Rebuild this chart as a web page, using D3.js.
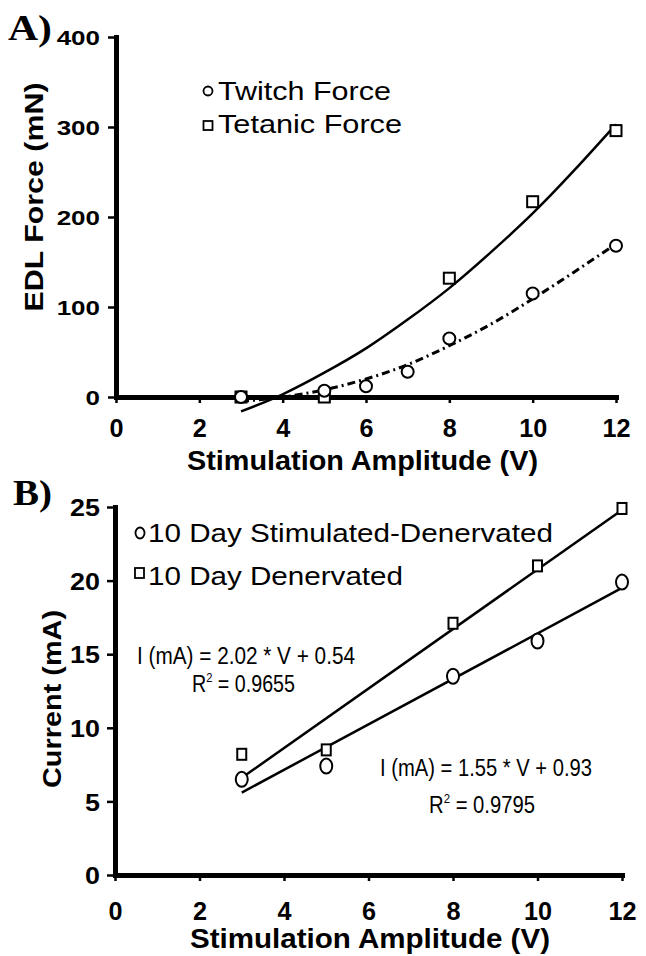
<!DOCTYPE html>
<meta charset="utf-8">
<style>
body { margin: 0; background: #fff; }
text { font-family: "Liberation Sans", Arial, sans-serif; fill: #000; }
.narrow { font-family: "Liberation Sans Narrow", "Arial Narrow", "Liberation Sans", sans-serif; }
</style>
<body>
<svg id="fig" width="646" height="956"></svg>
</body>
<script src="https://d3js.org/d3.v7.min.js"></script>
<script>
// panel A data: EDL force (mN) vs stimulation amplitude (V)
var twitchV = [3, 5, 6, 7, 8, 10, 12];
var twitchF = [0, 7, 12, 28, 65, 115, 168];
var tetanicV = [3, 5, 8, 10, 12];
var tetanicF = [0, 0, 132, 217, 296];
// trend curves
var trendV = [3, 4, 5, 6, 7, 8, 9, 10, 11, 12];
var twitchTrend = [-5, 0, 8, 20, 36, 57, 81, 109, 139, 170];
var tetanicTrend = [-16, 3, 27, 54, 86, 121, 161, 204, 252, 303];
var forceTicks = [0, 100, 200, 300, 400];
var voltTicks = [0, 2, 4, 6, 8, 10, 12];

// panel B data: current (mA) vs stimulation amplitude (V)
var ampB = [3, 5, 8, 10, 12];
var stimDenerv = [6.5, 7.4, 13.5, 15.9, 19.9];
var denerv = [8.2, 8.5, 17.1, 21.0, 24.9];
var fitV = [3, 12];
var denervFit = [6.6, 24.8];
var stimDenervFit = [5.6, 19.5];
var currentTicks = [0, 5, 10, 15, 20, 25];

var svg = d3.select("#fig");

// stretch text horizontally by factor k (the figure's type is wide)
function stretch(sel, k) {
  sel.each(function() {
    var w = this.getComputedTextLength();
    d3.select(this).attr("textLength", w * k).attr("lengthAdjust", "spacingAndGlyphs");
  });
}
function fitTo(sel, w) {
  sel.attr("textLength", w).attr("lengthAdjust", "spacingAndGlyphs");
}

function styleAxis(g) {
  g.select(".domain").attr("stroke-width", 5).attr("stroke-linecap", "square");
  g.selectAll(".tick line").attr("stroke-width", 2.5);
  g.selectAll("text").attr("font-weight", "bold").attr("fill", "#000");
}

// ---------------- panel A ----------------
var xA = d3.scaleLinear().domain([0, 12]).range([116, 616]);
var yA = d3.scaleLinear().domain([0, 400]).range([397, 37]);

var axYA = svg.append("g").attr("transform", "translate(" + xA(0) + ",0)")
  .call(d3.axisLeft(yA).tickValues(forceTicks).tickSize(8).tickSizeOuter(0).tickPadding(8));
styleAxis(axYA);
axYA.selectAll("text").attr("font-size", 20).attr("dy", "0.36em").call(stretch, 1.3);

var axXA = svg.append("g").attr("transform", "translate(0," + yA(0) + ")")
  .call(d3.axisBottom(xA).tickValues(voltTicks).tickSize(6).tickSizeOuter(0));
styleAxis(axXA);
axXA.selectAll("text").attr("font-size", 26).attr("y", 40).attr("dy", null).call(stretch, 0.97);

var lineA = d3.line().x(function(d) { return xA(d[0]); }).y(function(d) { return yA(d[1]); })
  .curve(d3.curveNatural);

svg.append("path").datum(d3.zip(trendV, tetanicTrend)).attr("d", lineA)
  .attr("fill", "none").attr("stroke", "#000").attr("stroke-width", 2.5);
svg.append("path").datum(d3.zip(trendV, twitchTrend)).attr("d", lineA)
  .attr("fill", "none").attr("stroke", "#000").attr("stroke-width", 3)
  .attr("stroke-dasharray", "8,4,2,4");

svg.append("g").selectAll("rect").data(d3.zip(tetanicV, tetanicF)).join("rect")
  .attr("x", function(d) { return xA(d[0]) - 5.5; })
  .attr("y", function(d) { return yA(d[1]) - 5.5; })
  .attr("width", 11).attr("height", 11)
  .attr("fill", "#fff").attr("stroke", "#000").attr("stroke-width", 2);
svg.append("g").selectAll("circle").data(d3.zip(twitchV, twitchF)).join("circle")
  .attr("cx", function(d) { return xA(d[0]); })
  .attr("cy", function(d) { return yA(d[1]); })
  .attr("r", 6)
  .attr("fill", "#fff").attr("stroke", "#000").attr("stroke-width", 2);

// legend A
svg.append("circle").attr("cx", 208).attr("cy", 91).attr("r", 4.5)
  .attr("fill", "#fff").attr("stroke", "#000").attr("stroke-width", 1.8);
svg.append("text").attr("x", 218).attr("y", 100).attr("font-size", 25)
  .text("Twitch Force").call(fitTo, 173);
svg.append("rect").attr("x", 203.5).attr("y", 121).attr("width", 9).attr("height", 9)
  .attr("fill", "#fff").attr("stroke", "#000").attr("stroke-width", 1.8);
svg.append("text").attr("x", 218).attr("y", 133).attr("font-size", 25)
  .text("Tetanic Force").call(fitTo, 184);

// titles A
svg.append("text").attr("transform", "translate(43,197) rotate(-90)")
  .attr("text-anchor", "middle").attr("font-size", 25).attr("font-weight", "bold")
  .text("EDL Force (mN)").call(fitTo, 229);
svg.append("text").attr("x", 187).attr("y", 470)
  .attr("font-size", 27).attr("font-weight", "bold")
  .text("Stimulation Amplitude (V)").call(fitTo, 351);
svg.append("text").attr("x", 8).attr("y", 40)
  .attr("font-size", 36).attr("font-weight", "bold")
  .style("font-family", "'Liberation Serif', 'Times New Roman', serif")
  .text("A)").call(fitTo, 44);

// ---------------- panel B ----------------
var xB = d3.scaleLinear().domain([0, 12]).range([115, 622]);
var yB = d3.scaleLinear().domain([0, 25]).range([875, 507]);

var axYB = svg.append("g").attr("transform", "translate(" + xB(0) + ",0)")
  .call(d3.axisLeft(yB).tickValues(currentTicks).tickSize(8).tickSizeOuter(0).tickPadding(7));
styleAxis(axYB);
axYB.selectAll("text").attr("font-size", 24).attr("dy", "0.36em").call(stretch, 1.12);

var axXB = svg.append("g").attr("transform", "translate(0," + yB(0) + ")")
  .call(d3.axisBottom(xB).tickValues(voltTicks).tickSize(6).tickSizeOuter(0));
styleAxis(axXB);
axXB.selectAll("text").attr("font-size", 26).attr("y", 45).attr("dy", null).call(stretch, 0.97);

var lineB = d3.line().x(function(d) { return xB(d[0]); }).y(function(d) { return yB(d[1]); });

svg.append("path").datum(d3.zip(fitV, denervFit)).attr("d", lineB)
  .attr("fill", "none").attr("stroke", "#000").attr("stroke-width", 2.5);
svg.append("path").datum(d3.zip(fitV, stimDenervFit)).attr("d", lineB)
  .attr("fill", "none").attr("stroke", "#000").attr("stroke-width", 2.5);

svg.append("g").selectAll("rect").data(d3.zip(ampB, denerv)).join("rect")
  .attr("x", function(d) { return xB(d[0]) - 4.5; })
  .attr("y", function(d) { return yB(d[1]) - 5.5; })
  .attr("width", 9).attr("height", 11)
  .attr("fill", "#fff").attr("stroke", "#000").attr("stroke-width", 2);
svg.append("g").selectAll("ellipse").data(d3.zip(ampB, stimDenerv)).join("ellipse")
  .attr("cx", function(d) { return xB(d[0]); })
  .attr("cy", function(d) { return yB(d[1]); })
  .attr("rx", 6).attr("ry", 7.5)
  .attr("fill", "#fff").attr("stroke", "#000").attr("stroke-width", 2);

// legend B
svg.append("ellipse").attr("cx", 140).attr("cy", 533).attr("rx", 4.5).attr("ry", 5.5)
  .attr("fill", "#fff").attr("stroke", "#000").attr("stroke-width", 1.8);
svg.append("text").attr("x", 148).attr("y", 542).attr("font-size", 26)
  .text("10 Day Stimulated-Denervated").call(fitTo, 405);
svg.append("rect").attr("x", 135).attr("y", 568).attr("width", 9).attr("height", 10)
  .attr("fill", "#fff").attr("stroke", "#000").attr("stroke-width", 1.8);
svg.append("text").attr("x", 148).attr("y", 585).attr("font-size", 26)
  .text("10 Day Denervated").call(fitTo, 255);

// fit equations
function eq(x, y, w, txt) {
  svg.append("text").attr("class", "narrow").attr("x", x).attr("y", y)
    .attr("font-size", 23).text(txt).call(fitTo, w);
}
function r2(x, y, w, val) {
  var t = svg.append("text").attr("class", "narrow").attr("x", x).attr("y", y)
    .attr("font-size", 23);
  t.append("tspan").text("R");
  t.append("tspan").attr("font-size", 13).attr("dy", -10).text("2");
  t.append("tspan").attr("dy", 10).text(" = " + val);
  t.call(fitTo, w);
}
eq(137, 664, 218, "I (mA) = 2.02 * V + 0.54");
r2(192, 692, 103, "0.9655");
eq(380, 776, 212, "I (mA) = 1.55 * V + 0.93");
r2(429, 813, 106, "0.9795");

// titles B
svg.append("text").attr("transform", "translate(61,699) rotate(-90)")
  .attr("text-anchor", "middle").attr("font-size", 26).attr("font-weight", "bold")
  .text("Current (mA)").call(fitTo, 178);
svg.append("text").attr("x", 190).attr("y", 948)
  .attr("font-size", 27).attr("font-weight", "bold")
  .text("Stimulation Amplitude (V)").call(fitTo, 360);
svg.append("text").attr("x", 13).attr("y", 505)
  .attr("font-size", 36).attr("font-weight", "bold")
  .style("font-family", "'Liberation Serif', 'Times New Roman', serif")
  .text("B)").call(fitTo, 39);
</script>
